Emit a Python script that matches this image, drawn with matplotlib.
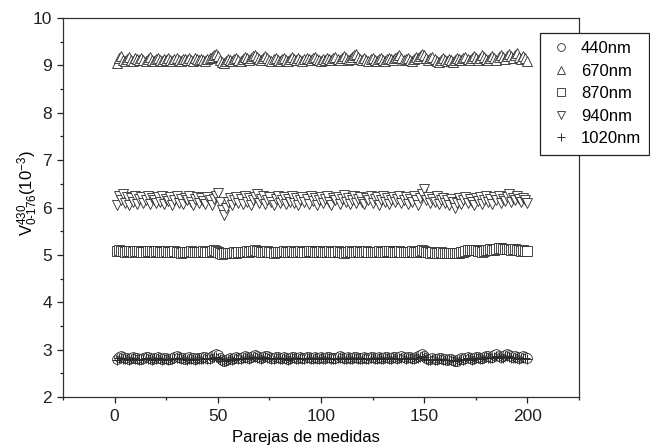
import matplotlib
matplotlib.use("Agg")
import matplotlib.pyplot as plt
import numpy as np

plt.rcParams['font.family'] = ['Liberation Sans', 'DejaVu Sans']
plt.rcParams['mathtext.fontset'] = 'custom'
plt.rcParams['mathtext.rm'] = 'Liberation Sans'
plt.rcParams['mathtext.it'] = 'Liberation Sans'

x_pairs = list(range(1, 201))

v_440 = [
    2.80,2.85,2.87,2.84,2.82,2.83,2.81,2.82,2.84,2.83,2.82,2.80,2.81,2.83,2.85,2.84,2.82,2.81,2.82,2.83,
    2.84,2.82,2.81,2.83,2.82,2.80,2.81,2.83,2.85,2.86,2.84,2.82,2.83,2.81,2.82,2.84,2.83,2.82,2.81,2.82,
    2.83,2.82,2.84,2.85,2.83,2.82,2.86,2.89,2.91,2.88,2.83,2.78,2.76,2.78,2.80,2.82,2.81,2.83,2.84,2.82,
    2.83,2.85,2.86,2.84,2.83,2.85,2.87,2.88,2.86,2.84,2.83,2.85,2.87,2.86,2.84,2.82,2.83,2.85,2.84,2.82,
    2.83,2.84,2.82,2.81,2.83,2.85,2.84,2.82,2.83,2.84,2.83,2.82,2.84,2.85,2.83,2.82,2.84,2.83,2.82,2.84,
    2.83,2.82,2.84,2.85,2.83,2.82,2.83,2.84,2.86,2.85,2.83,2.82,2.84,2.83,2.82,2.84,2.85,2.83,2.82,2.83,
    2.84,2.83,2.82,2.84,2.85,2.83,2.82,2.84,2.83,2.82,2.84,2.85,2.83,2.82,2.84,2.85,2.83,2.84,2.86,2.85,
    2.83,2.84,2.85,2.83,2.82,2.84,2.86,2.88,2.91,2.87,2.83,2.81,2.80,2.82,2.81,2.80,2.82,2.83,2.81,2.80,
    2.79,2.81,2.80,2.78,2.76,2.77,2.80,2.82,2.81,2.83,2.84,2.82,2.81,2.83,2.85,2.84,2.82,2.83,2.85,2.87,
    2.86,2.84,2.85,2.88,2.90,2.87,2.85,2.86,2.89,2.91,2.88,2.86,2.84,2.86,2.85,2.83,2.84,2.86,2.85,2.82,
]

v_670 = [
    9.05,9.15,9.20,9.12,9.10,9.14,9.18,9.12,9.10,9.15,9.13,9.11,9.16,9.12,9.10,9.14,9.17,9.12,9.10,9.13,
    9.15,9.11,9.10,9.14,9.12,9.16,9.11,9.10,9.13,9.15,9.12,9.10,9.14,9.13,9.11,9.15,9.12,9.10,9.16,9.13,
    9.11,9.14,9.12,9.10,9.13,9.15,9.18,9.22,9.25,9.20,9.12,9.08,9.05,9.10,9.14,9.12,9.09,9.13,9.16,9.12,
    9.10,9.14,9.18,9.15,9.12,9.16,9.20,9.22,9.18,9.14,9.12,9.16,9.19,9.15,9.12,9.10,9.14,9.16,9.12,9.10,
    9.13,9.15,9.12,9.10,9.14,9.17,9.13,9.11,9.15,9.12,9.10,9.14,9.16,9.13,9.11,9.15,9.18,9.14,9.12,9.10,
    9.14,9.12,9.16,9.13,9.11,9.15,9.18,9.14,9.12,9.16,9.20,9.15,9.12,9.14,9.17,9.22,9.25,9.18,9.14,9.12,
    9.15,9.12,9.10,9.14,9.16,9.12,9.10,9.13,9.15,9.12,9.10,9.14,9.16,9.13,9.11,9.15,9.18,9.22,9.15,9.12,
    9.14,9.16,9.12,9.10,9.14,9.18,9.15,9.20,9.25,9.22,9.15,9.12,9.16,9.18,9.14,9.10,9.08,9.12,9.15,9.12,
    9.10,9.14,9.12,9.08,9.12,9.16,9.14,9.11,9.15,9.18,9.14,9.12,9.16,9.20,9.15,9.12,9.16,9.22,9.18,9.14,
    9.12,9.16,9.20,9.15,9.12,9.18,9.22,9.17,9.14,9.19,9.25,9.20,9.15,9.22,9.26,9.18,9.14,9.20,9.16,9.10,
]

v_870 = [
    5.09,5.10,5.09,5.08,5.07,5.08,5.09,5.08,5.07,5.08,5.09,5.08,5.07,5.06,5.07,5.08,5.09,5.08,5.07,5.08,
    5.08,5.07,5.06,5.07,5.08,5.07,5.06,5.07,5.08,5.07,5.06,5.05,5.06,5.07,5.06,5.07,5.08,5.07,5.06,5.07,
    5.06,5.07,5.08,5.07,5.06,5.07,5.08,5.10,5.09,5.07,5.04,5.02,5.03,5.04,5.05,5.04,5.05,5.06,5.05,5.06,
    5.07,5.06,5.07,5.08,5.07,5.08,5.09,5.10,5.09,5.08,5.07,5.06,5.07,5.08,5.07,5.06,5.05,5.06,5.07,5.06,
    5.07,5.08,5.07,5.06,5.07,5.08,5.07,5.06,5.07,5.08,5.07,5.06,5.07,5.08,5.09,5.08,5.07,5.06,5.07,5.08,
    5.07,5.06,5.07,5.08,5.07,5.06,5.07,5.08,5.07,5.06,5.05,5.06,5.07,5.08,5.07,5.06,5.07,5.08,5.07,5.06,
    5.07,5.08,5.07,5.06,5.07,5.06,5.07,5.08,5.07,5.06,5.07,5.08,5.09,5.08,5.07,5.06,5.07,5.08,5.07,5.06,
    5.07,5.06,5.07,5.08,5.07,5.06,5.07,5.09,5.10,5.08,5.07,5.06,5.05,5.06,5.05,5.04,5.05,5.06,5.05,5.04,
    5.03,5.04,5.05,5.04,5.03,5.04,5.05,5.06,5.07,5.09,5.10,5.11,5.10,5.11,5.10,5.09,5.08,5.07,5.09,5.10,
    5.11,5.12,5.11,5.10,5.12,5.14,5.15,5.13,5.12,5.13,5.12,5.11,5.12,5.13,5.11,5.10,5.09,5.10,5.09,5.08,
]

v_940 = [
    6.05,6.25,6.15,6.28,6.10,6.22,6.05,6.20,6.12,6.25,6.08,6.18,6.22,6.10,6.15,6.24,6.08,6.20,6.15,6.10,
    6.22,6.12,6.25,6.08,6.18,6.14,6.22,6.06,6.16,6.24,6.10,6.18,6.08,6.20,6.15,6.25,6.12,6.05,6.18,6.22,
    6.10,6.20,6.14,6.08,6.22,6.15,6.05,6.18,6.25,6.30,6.12,5.95,5.85,6.00,6.12,6.20,6.05,6.15,6.22,6.10,
    6.18,6.08,6.25,6.12,6.20,6.05,6.16,6.22,6.28,6.10,6.18,6.24,6.08,6.15,6.22,6.12,6.05,6.18,6.25,6.10,
    6.15,6.22,6.08,6.18,6.12,6.25,6.10,6.20,6.05,6.16,6.22,6.12,6.18,6.08,6.24,6.14,6.20,6.06,6.16,6.22,
    6.10,6.18,6.25,6.12,6.05,6.20,6.15,6.22,6.08,6.18,6.26,6.12,6.20,6.08,6.15,6.24,6.10,6.18,6.22,6.12,
    6.08,6.20,6.15,6.25,6.10,6.18,6.22,6.06,6.16,6.24,6.12,6.20,6.08,6.15,6.22,6.12,6.18,6.25,6.10,6.16,
    6.22,6.08,6.18,6.12,6.25,6.15,6.05,6.20,6.28,6.40,6.15,6.22,6.10,6.18,6.12,6.24,6.08,6.16,6.20,6.10,
    6.15,6.05,6.18,6.12,6.00,6.10,6.20,6.08,6.15,6.22,6.10,6.18,6.12,6.05,6.20,6.14,6.22,6.08,6.16,6.24,
    6.12,6.18,6.08,6.22,6.15,6.25,6.10,6.18,6.14,6.22,6.28,6.12,6.20,6.16,6.24,6.18,6.12,6.20,6.15,6.10,
]

v_1020 = [
    2.79,2.82,2.83,2.81,2.80,2.81,2.79,2.80,2.82,2.81,2.80,2.79,2.80,2.81,2.82,2.81,2.80,2.79,2.80,2.81,
    2.82,2.80,2.79,2.81,2.80,2.79,2.80,2.81,2.82,2.83,2.82,2.80,2.81,2.80,2.79,2.81,2.80,2.80,2.79,2.80,
    2.81,2.80,2.81,2.82,2.81,2.80,2.82,2.84,2.85,2.83,2.80,2.77,2.75,2.77,2.78,2.80,2.79,2.81,2.82,2.80,
    2.81,2.82,2.83,2.82,2.81,2.82,2.84,2.85,2.83,2.82,2.81,2.83,2.84,2.83,2.82,2.80,2.81,2.82,2.82,2.80,
    2.81,2.82,2.80,2.79,2.81,2.82,2.82,2.80,2.81,2.82,2.81,2.80,2.82,2.83,2.81,2.80,2.82,2.81,2.80,2.82,
    2.81,2.80,2.82,2.83,2.81,2.80,2.81,2.82,2.83,2.82,2.81,2.80,2.82,2.81,2.80,2.82,2.83,2.81,2.80,2.81,
    2.82,2.81,2.80,2.82,2.83,2.81,2.80,2.82,2.81,2.80,2.82,2.83,2.81,2.80,2.82,2.83,2.81,2.82,2.83,2.82,
    2.81,2.82,2.83,2.81,2.80,2.82,2.83,2.85,2.87,2.84,2.81,2.79,2.78,2.80,2.79,2.78,2.80,2.81,2.79,2.78,
    2.78,2.79,2.78,2.77,2.76,2.77,2.79,2.80,2.79,2.81,2.82,2.80,2.79,2.81,2.82,2.82,2.80,2.81,2.83,2.84,
    2.83,2.82,2.83,2.85,2.86,2.84,2.82,2.83,2.86,2.87,2.85,2.83,2.82,2.83,2.82,2.81,2.82,2.83,2.82,2.80,
]

labels = ['440nm', '670nm', '870nm', '940nm', '1020nm']
markers = ['o', '^', 's', 'v', '+']
series = [v_440, v_670, v_870, v_940, v_1020]

fig = plt.figure(figsize=(6.5, 4.46), dpi=100)
ax = fig.add_axes([63/650, 1-397/446, (579-63)/650, (397-18)/446])

edge = '#2a2a2a'
for vals, lab, m in zip(series, labels, markers):
    if m == '+':
        ax.plot(x_pairs, vals, linestyle='none', marker=m, markersize=7.5,
                markeredgecolor=edge, markeredgewidth=0.7, color=edge, label=lab)
    else:
        ax.plot(x_pairs, vals, linestyle='none', marker=m, markersize=7,
                markerfacecolor='white', markeredgecolor=edge, markeredgewidth=0.6,
                label=lab)

ax.set_xlim(-25, 225)
ax.set_ylim(2, 10)
ax.set_xticks([0, 50, 100, 150, 200])
ax.set_xticks([-25, 25, 75, 125, 175, 225], minor=True)
ax.set_yticks([2, 3, 4, 5, 6, 7, 8, 9, 10])
ax.set_yticks(np.arange(2.5, 10, 1.0), minor=True)
ax.tick_params(which='both', direction='out', labelsize=12.5, colors='#222222')
ax.tick_params(which='major', length=4.5, width=0.9)
ax.tick_params(which='minor', length=2.5, width=0.9)
ax.tick_params(axis='x', pad=4)
for s in ax.spines.values():
    s.set_linewidth(0.9)
    s.set_color('#333333')

fig.text(306/650, 0.003, 'Parejas de medidas', ha='center', va='bottom', fontsize=12)
fig.text(0.042, 1-193/446, r'$\mathregular{V^{430}_{0\text{-}176}(10^{-3})}$',
         rotation=90, ha='center', va='center', fontsize=12)

handles, _ = ax.get_legend_handles_labels()
leg = fig.legend(handles, labels, loc='upper left', bbox_to_anchor=(540/650, 1-33/446),
                 frameon=True, fancybox=False, fontsize=12,
                 handletextpad=0.45, borderpad=0.5, labelspacing=0.45,
                 handlelength=1.5, borderaxespad=0, markerscale=0.8)
leg.get_frame().set_edgecolor('#222222')
leg.get_frame().set_linewidth(0.9)
leg.get_frame().set_alpha(1)

fig.savefig('out.png', dpi=100)
